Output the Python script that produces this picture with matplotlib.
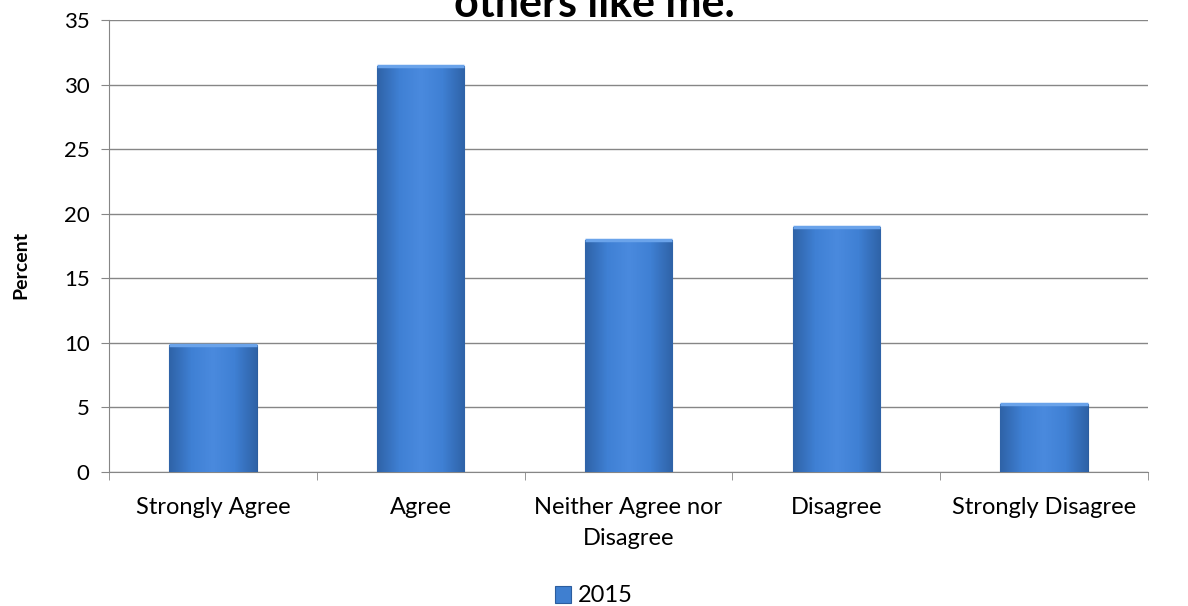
import matplotlib.pyplot as plt
import numpy as np
from matplotlib.colors import LinearSegmentedColormap

categories = ["Strongly Agree", "Agree", "Neither Agree nor\nDisagree",
              "Disagree", "Strongly Disagree"]
values_2015 = [9.8, 31.4, 18.0, 19.0, 5.3]
series_label = "2015"
title = "others like me."

plt.rcParams["font.family"] = ["Lato", "DejaVu Sans"]

fig = plt.figure(figsize=(11.88, 6.06), dpi=100)
ax = fig.add_axes([0.0918, 0.2211, 0.8745, 0.7459])

x = np.arange(len(categories))
bars = ax.bar(x, values_2015, width=0.42, color="#3f7fd0",
              edgecolor="#2c5d9e", linewidth=0.8, label=series_label, zorder=3)

# soft gradient on each bar, clipped to the bar shape
cmap = LinearSegmentedColormap.from_list(
    "bar", ["#2f63a8", "#3f80d4", "#4a8ade", "#3f80d4", "#2f63a8"])
grad = np.tile(np.linspace(0, 1, 64), (64, 1))
for b in bars:
    im = ax.imshow(grad, cmap=cmap, aspect="auto", zorder=3.5,
                   extent=[b.get_x(), b.get_x() + b.get_width(), 0, b.get_height()])
    im.set_clip_path(b)
    ax.plot([b.get_x(), b.get_x() + b.get_width()], [b.get_height()] * 2,
            color="#6aa3ea", lw=2.5, zorder=4, solid_capstyle="butt")

ax.set_xlim(-0.5, len(categories) - 0.5)
ax.set_ylim(0, 35)
ax.set_yticks(range(0, 36, 5))
ax.set_xticks(x)
ax.set_xticklabels(categories, fontsize=17, linespacing=1.6)
ax.set_xticks(np.arange(-0.5, len(categories)), minor=True)
ax.tick_params(axis="x", which="major", length=0, pad=18)
ax.tick_params(axis="x", which="minor", length=6, color="#868686")
ax.tick_params(axis="y", length=6, color="#868686", labelsize=16, pad=8)

ax.grid(axis="y", color="#868686", linewidth=1, zorder=0)
for side in ["top", "right"]:
    ax.spines[side].set_visible(False)
for side in ["left", "bottom"]:
    ax.spines[side].set_color("#868686")

ax.set_ylabel("Percent", fontsize=14, fontweight="bold")
ax.yaxis.set_label_coords(-0.077, 0.458)
fig.text(0.5, 0.972, title, ha="center", va="baseline",
         fontsize=31, fontweight="bold")

fig.legend(handles=[bars], labels=[series_label], loc="center",
           bbox_to_anchor=(0.5, 1 - 596 / 606), frameon=False, fontsize=17,
           handlelength=0.7, handleheight=0.7, handletextpad=0.3)

fig.savefig("out.png", dpi=100)
plt.close(fig)
